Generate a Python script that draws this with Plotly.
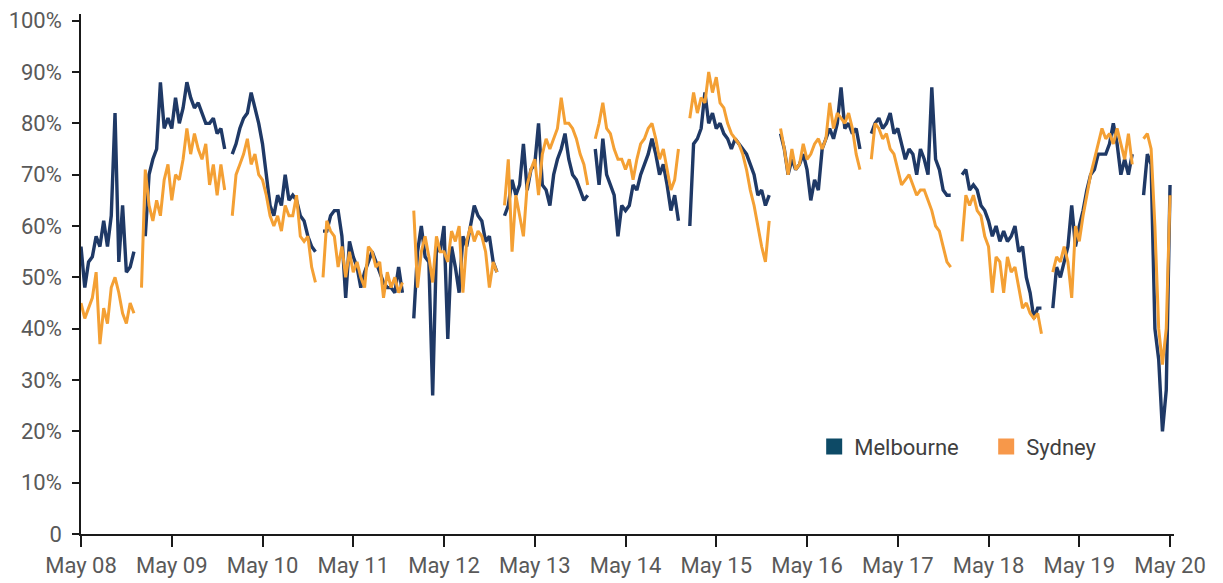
import pandas as pd
import plotly.graph_objects as go

N = None

# Hourly readings (%), one row per day, starting May 08 00:00
melbourne = [
    # May 08
    56, 48, 53, 54, 58, 56, 61, 56, 62, 82, 53, 64, 51, 52, 55, N, N, 58, 70, 73, 75, 88, 79, 81,
    # May 09
    79, 85, 80, 83, 88, 85, 83, 84, 82, 80, 80, 81, 78, 79, 75, N, 74, 76, 79, 81, 82, 86, 83, 80,
    # May 10
    76, 70, 64, 62, 66, 64, 70, 65, 66, 65, 62, 61, 58, 56, 55, N, 59, 59, 62, 63, 63, 58, 46, 57,
    # May 11
    54, 52, 48, 51, 53, 55, 53, 51, 49, 48, 48, 47, 52, 47, N, N, 42, 55, 60, 54, 53, 27, 56, 55,
    # May 12
    60, 38, 56, 52, 47, 58, 56, 60, 64, 62, 61, 57, 58, 53, 51, N, 62, 64, 69, 66, 68, 76, 67, 71,
    # May 13
    72, 80, 68, 67, 64, 70, 73, 75, 78, 73, 70, 69, 67, 65, 66, N, 75, 68, 77, 70, 68, 66, 58, 64,
    # May 14
    63, 64, 68, 67, 70, 72, 74, 77, 74, 70, 72, 68, 63, 66, 61, N, N, 60, 76, 77, 79, 86, 80, 82,
    # May 15
    79, 80, 78, 77, 75, 77, 76, 75, 74, 72, 70, 66, 67, 64, 66, N, N, 78, 75, 70, 73, 71, 72, 74,
    # May 16
    71, 65, 69, 67, 75, 77, 79, 77, 80, 87, 79, 80, 78, 79, 75, N, N, 78, 80, 81, 79, 80, 82, 78,
    # May 17
    79, 76, 73, 75, 74, 70, 75, 73, 70, 87, 73, 71, 67, 66, 66, N, N, 70, 71, 67, 68, 67, 64, 63,
    # May 18
    61, 58, 60, 57, 59, 57, 58, 60, 55, 56, 50, 47, 42, 44, 44, N, N, 44, 52, 50, 53, 56, 64, 56,
    # May 19
    60, 63, 67, 70, 71, 74, 74, 74, 76, 80, 76, 70, 73, 70, 74, N, N, 66, 74, 72, 40, 34, 20, 28,
    # May 20
    68,
]

sydney = [
    # May 08
    45, 42, 44, 46, 51, 37, 44, 41, 48, 50, 47, 43, 41, 45, 43, N, 48, 71, 64, 61, 65, 62, 69, 72,
    # May 09
    65, 70, 69, 73, 79, 74, 78, 75, 73, 76, 68, 72, 66, 72, 67, N, 62, 70, 72, 74, 77, 72, 74, 70,
    # May 10
    69, 66, 62, 60, 62, 59, 64, 62, 62, 66, 58, 57, 58, 52, 49, N, 50, 61, 59, 58, 52, 56, 50, 55,
    # May 11
    51, 53, 50, 48, 56, 55, 52, 53, 46, 51, 48, 50, 47, 49, N, N, 63, 48, 55, 58, 54, 49, 58, 55,
    # May 12
    55, 53, 59, 57, 60, 47, 57, 60, 57, 59, 58, 55, 48, 53, 51, N, 64, 73, 55, 66, 62, 58, 68, 71,
    # May 13
    73, 66, 74, 77, 75, 77, 79, 85, 80, 80, 79, 77, 74, 72, 68, N, 77, 80, 84, 79, 78, 75, 73, 73,
    # May 14
    71, 73, 69, 73, 76, 77, 79, 80, 77, 73, 75, 71, 67, 69, 75, N, N, 81, 86, 82, 85, 84, 90, 86,
    # May 15
    89, 84, 83, 80, 78, 77, 76, 74, 71, 67, 64, 60, 56, 53, 61, N, N, 79, 75, 70, 75, 71, 72, 76,
    # May 16
    73, 74, 76, 77, 75, 77, 84, 79, 82, 81, 80, 82, 79, 74, 71, N, N, 73, 80, 79, 77, 78, 75, 74,
    # May 17
    71, 68, 69, 70, 68, 66, 67, 67, 65, 63, 60, 59, 56, 53, 52, N, N, 57, 66, 64, 66, 63, 62, 58,
    # May 18
    56, 47, 54, 53, 47, 54, 51, 52, 48, 44, 45, 43, 42, 43, 39, N, N, 51, 54, 53, 56, 53, 46, 60,
    # May 19
    57, 62, 66, 70, 73, 76, 79, 77, 78, 76, 79, 76, 73, 78, 72, N, N, 77, 78, 75, 60, 40, 33, 40,
    # May 20
    66,
]

start = "2020-05-08 00:00"
day_labels = ["May 08", "May 09", "May 10", "May 11", "May 12", "May 13", "May 14",
              "May 15", "May 16", "May 17", "May 18", "May 19", "May 20"]
y_ticks = [0, 10, 20, 30, 40, 50, 60, 70, 80, 90, 100]
y_tick_text = ["0" if v == 0 else f"{v}%" for v in y_ticks]

times = pd.date_range(start, periods=len(melbourne), freq="h")
day_ticks = pd.date_range(start, periods=len(day_labels), freq="D")

MEL_LINE = "#1f3966"
SYD_LINE = "#f4a034"
MEL_KEY = "#0d4a66"
SYD_KEY = "#f7984a"

fig = go.Figure()
fig.add_trace(go.Scatter(x=times, y=melbourne, mode="lines", name="Melbourne",
                         line=dict(color=MEL_LINE, width=3.4), connectgaps=False,
                         showlegend=False))
fig.add_trace(go.Scatter(x=times, y=sydney, mode="lines", name="Sydney",
                         line=dict(color=SYD_LINE, width=3.0), connectgaps=False,
                         showlegend=False))
# legend keys (square swatches)
fig.add_trace(go.Scatter(x=[None], y=[None], mode="markers", name="Melbourne",
                         marker=dict(symbol="square", size=16, color=MEL_KEY)))
fig.add_trace(go.Scatter(x=[None], y=[None], mode="markers", name="Sydney",
                         marker=dict(symbol="square", size=16, color=SYD_KEY)))

# page body has an 8px margin; the figure is offset by it
fig.update_layout(
    width=1207, height=575,
    margin=dict(l=73, r=41, t=6, b=49, autoexpand=False),
    paper_bgcolor="white", plot_bgcolor="white",
    font=dict(family="Roboto", size=22, color="#595959"),
    legend=dict(orientation="h", x=0.6708, xanchor="left", y=0.168, yanchor="middle",
                font=dict(size=22, color="#404040"), bgcolor="rgba(0,0,0,0)",
                itemsizing="trace", entrywidth=127, entrywidthmode="pixels"),
)
fig.update_xaxes(
    range=[pd.Timestamp(start), pd.Timestamp("2020-05-20 01:03")],
    tickvals=day_ticks, ticktext=day_labels, automargin=False,
    showline=True, linecolor="#1a1a1a", linewidth=1.5,
    ticks="outside", ticklen=11, tickwidth=1.5, tickcolor="#1a1a1a",
    showgrid=False, zeroline=False,
)
fig.update_yaxes(
    range=[0, 101.3],
    tickvals=y_ticks, ticktext=y_tick_text, automargin=False,
    ticklabelstandoff=6,
    showline=True, linecolor="#1a1a1a", linewidth=1.5,
    ticks="outside", ticklen=7, tickwidth=1.5, tickcolor="#1a1a1a",
    showgrid=False, zeroline=False,
)

fig.write_html("out.html")
